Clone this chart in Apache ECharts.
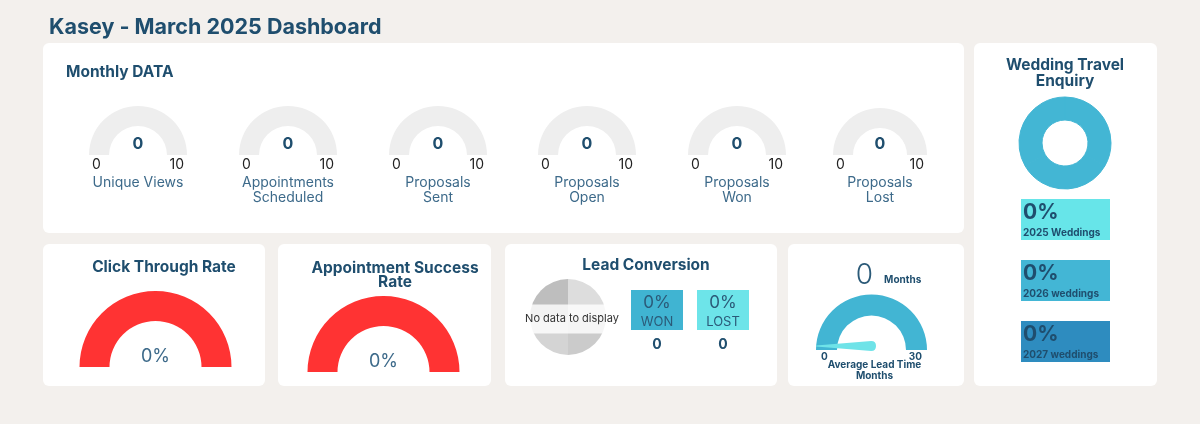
<!DOCTYPE html>
<html><head><meta charset="utf-8">
<script src="https://cdn.jsdelivr.net/npm/echarts@6/dist/echarts.min.js"></script>
<style>html,body{margin:0;padding:0;background:#f3f0ed}#c{width:1200px;height:424px}</style>
</head><body><div id="c"></div>
<script>
// ---- data ----
const dashboardTitle = 'Kasey - March 2025 Dashboard';
const monthlyTitle = 'Monthly DATA';
const monthlyNames = ['Unique Views', 'Appointments\nScheduled', 'Proposals\nSent', 'Proposals\nOpen', 'Proposals\nWon', 'Proposals\nLost'];
const monthlyValues = [0, 0, 0, 0, 0, 0];
const monthlyMin = 0, monthlyMax = 10;
const rateTitles = ['Click Through Rate', 'Appointment Success\nRate'];
const rateValues = [0, 0];
const leadTitle = 'Lead Conversion';
const leadLabels = ['WON', 'LOST'];
const leadPercents = [0, 0];
const leadCounts = [0, 0];
const leadTimeValue = 0;
const leadTimeMin = 0, leadTimeMax = 30;
const leadTimeUnit = 'Months';
const leadTimeName = 'Average Lead Time\nMonths';
const weddingTitle = 'Wedding Travel\nEnquiry';
const weddingLabels = ['2025 Weddings', '2026 weddings', '2027 weddings'];
const weddingPercents = [0, 0, 0];

// ---- style / layout ----
const F = 'Inter, "Noto Sans", sans-serif';
const NAVY = '#1f4e6e';
const SOFT = '#3d6a8a';
const chart = echarts.init(document.getElementById('c'));

const panels = [[43,43,921,190],[43,244,222,142],[278,244,213,142],[505,244,272,142],[788,244,176,142],[974,43,183,343]];
const graphic = [];
panels.forEach(p => graphic.push({type:'rect', z:0, shape:{x:p[0],y:p[1],width:p[2],height:p[3],r:6}, style:{fill:'#ffffff'}}));
function txt(text, x, y, font, fill, align, extra) {
  graphic.push({type:'text', z:100, x:x, y:y, style:Object.assign({text:text, font:font, fill:fill, textAlign:align||'left', align:align||'left', textVerticalAlign:'middle', verticalAlign:'middle', lineHeight:16}, extra||{})});
}
txt(dashboardTitle, 49, 28, 'bold 21.5px ' + F, NAVY);
txt(monthlyTitle, 66, 72, 'bold 15.5px ' + F, NAVY);
txt(rateTitles[0], 164, 267, 'bold 15.5px ' + F, NAVY, 'center');
txt(rateTitles[1], 395, 275, 'bold 15.5px ' + F, NAVY, 'center', {lineHeight:14});
txt(leadTitle, 646, 265, 'bold 15.5px ' + F, NAVY, 'center');
txt(weddingTitle, 1065, 73, 'bold 15.5px ' + F, NAVY, 'center', {lineHeight:16});

// lead conversion boxes
const leadBoxX = [631, 697];
const leadBoxColors = ['#40b4d2', '#6de4e9'];
leadLabels.forEach((l, i) => {
  graphic.push({type:'rect', z:1, shape:{x:leadBoxX[i], y:290, width:52, height:40}, style:{fill:leadBoxColors[i]}});
  txt(leadPercents[i] + '%', leadBoxX[i] + 26, 303, '17px ' + F, '#2b5a78', 'center');
  txt(l, leadBoxX[i] + 26, 322, '13px ' + F, '#2b5a78', 'center');
  txt(String(leadCounts[i]), leadBoxX[i] + 26, 345, 'bold 14px ' + F, NAVY, 'center');
});

// wedding boxes
const wedBoxY = [199, 260, 321];
const wedColors = ['#67e5e9', '#43b6d5', '#2e8cbf'];
weddingLabels.forEach((l, i) => {
  graphic.push({type:'rect', z:1, shape:{x:1021, y:wedBoxY[i], width:89, height:41}, style:{fill:wedColors[i]}});
  txt(weddingPercents[i] + '%', 1023, wedBoxY[i] + 14, 'bold 21px ' + F, NAVY);
  txt(l, 1023, wedBoxY[i] + 34, 'bold 10px ' + F, NAVY);
});

const series = [];
// monthly gauges
const mCx = [138, 288, 438, 587, 737, 880];
const mR = [49, 49, 49, 49, 49, 47];
monthlyNames.forEach((n, i) => {
  const twoLine = n.indexOf('\n') >= 0;
  series.push({
    type:'gauge', center:[mCx[i], 155], radius:mR[i], startAngle:180, endAngle:0,
    min:monthlyMin, max:monthlyMax, splitNumber:1, silent:true,
    axisLine:{lineStyle:{width:20, color:[[1, '#eeeeee']]}},
    progress:{show:true, width:20, itemStyle:{color:'#43b6d5'}},
    pointer:{show:false}, anchor:{show:false}, axisTick:{show:false},
    splitLine:{show:false, length:0, distance:0},
    axisLabel:{distance:3, formatter:v => '{a|' + v + '}', rich:{a:{color:'#222222', fontSize:14, fontFamily:F, padding:[19,0,0,0]}}},
    title:{offsetCenter:[0, twoLine ? 35 : 28], fontSize:14, color:SOFT, fontFamily:F, lineHeight:15},
    detail:{offsetCenter:[0, -11], fontSize:16, fontWeight:'bold', color:NAVY, fontFamily:F, formatter:'{value}'},
    data:[{value:monthlyValues[i], name:n}]
  });
});
// rate gauges
const rCenters = [[155.5, 367], [383.5, 372]];
rateValues.forEach((v, i) => {
  series.push({
    type:'gauge', center:rCenters[i], radius:76, startAngle:180, endAngle:0, min:0, max:100, silent:true,
    axisLine:{lineStyle:{width:30, color:[[1, '#ff3333']]}},
    progress:{show:false}, pointer:{show:false}, anchor:{show:false}, axisTick:{show:false},
    splitLine:{show:false}, axisLabel:{show:false}, title:{show:false},
    detail:{offsetCenter:[0, -10], fontSize:18, fontWeight:'normal', color:SOFT, fontFamily:F, formatter:'{value}%'},
    data:[{value:v}]
  });
});
// lead time gauge
series.push({
  type:'gauge', center:[871.5, 350], radius:55.5, startAngle:180, endAngle:0,
  min:leadTimeMin, max:leadTimeMax, splitNumber:1, silent:true,
  axisLine:{lineStyle:{width:21, color:[[1, '#42b5d3']]}},
  progress:{show:false}, pointer:{show:false}, anchor:{show:false}, axisTick:{show:false},
  splitLine:{show:false, length:0, distance:0},
  axisLabel:{distance:5, formatter:v => '{a|' + v + '}', rich:{a:{color:NAVY, fontSize:10, fontWeight:'bold', fontFamily:F, padding:[13,0,0,0]}}},
  title:{offsetCenter:[3, 20], fontSize:10, fontWeight:'bold', color:NAVY, fontFamily:F, lineHeight:11},
  detail:{offsetCenter:[17, -74], fontFamily:F, formatter:'{v|{value}} {u|' + leadTimeUnit + '}',
    rich:{v:{fontSize:28, color:'#2b5a78', fontFamily:F, fontWeight:300}, u:{fontSize:10, fontWeight:'bold', color:NAVY, fontFamily:F, padding:[8,0,0,4]}}},
  data:[{value:leadTimeValue, name:leadTimeName}]
});
series.push({
  type:'gauge', center:[871, 346], radius:55, startAngle:180, endAngle:0,
  min:leadTimeMin, max:leadTimeMax, silent:true,
  axisLine:{show:false}, progress:{show:false}, anchor:{show:false}, axisTick:{show:false},
  splitLine:{show:false}, axisLabel:{show:false}, title:{show:false}, detail:{show:false},
  pointer:{show:true, icon:'path://M4.6,0 L5.4,0 L10,92 Q10,100 5,100 Q0,100 0,92 Z', length:60, width:10, offsetCenter:[0, 5], keepAspect:false, itemStyle:{color:'#6fe3e8'}},
  data:[{value:leadTimeValue}]
});
// lead conversion pie (no data placeholder)
const leadSum = leadCounts.reduce((a, b) => a + b, 0);
const emptyShades = ['#dddddd', '#cbcbcb', '#d4d4d4', '#bebebe'];
series.push({
  type:'pie', center:[568, 317], radius:38, startAngle:90, silent:true, label:{show:false}, labelLine:{show:false},
  itemStyle:{borderWidth:0},
  data: leadSum > 0 ? leadCounts.map((c, i) => ({value:c, name:leadLabels[i], itemStyle:{color:leadBoxColors[i]}}))
                    : emptyShades.map(c => ({value:1, itemStyle:{color:c}}))
});
if (leadSum === 0) {
  graphic.push({type:'text', z:100, x:572, y:319, style:{text:'No data to display', font:'11px ' + F, fill:'#333333', textAlign:'center', align:'center', textVerticalAlign:'middle', verticalAlign:'middle', backgroundColor:'rgba(255,255,255,0.8)', padding:[9,4,9,4]}});
}
// wedding donut
series.push({
  type:'pie', center:[1065, 143], radius:[23, 46], silent:true, stillShowZeroSum:true, label:{show:false}, labelLine:{show:false},
  itemStyle:{borderWidth:1, borderColor:'#43b6d4', color:'#43b6d4'},
  data: weddingPercents.map((v, i) => ({value:v, name:weddingLabels[i]}))
});

chart.setOption({backgroundColor:'#f3f0ed', animation:false, graphic:graphic, series:series});
</script></body></html>
